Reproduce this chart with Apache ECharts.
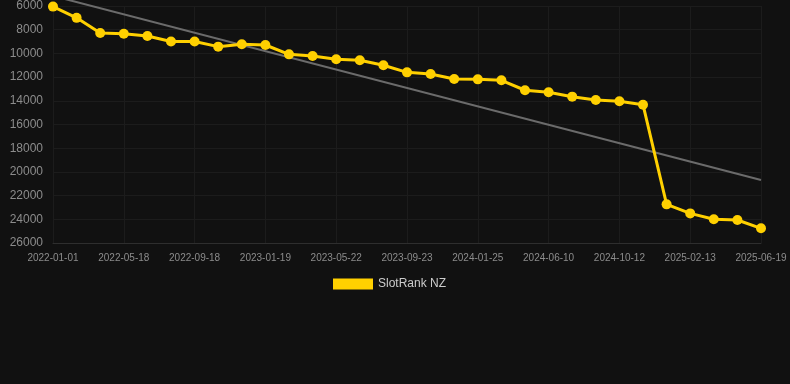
<!DOCTYPE html>
<html>
<head>
<meta charset="utf-8">
<script src="https://cdn.jsdelivr.net/npm/echarts@6/dist/echarts.min.js"></script>
<style>
html,body{margin:0;padding:0;background:#111111;}
#chart{width:790px;height:384px;}
</style>
</head>
<body>
<div id="chart"></div>
<script>
const dates = ['2022-01-01','2022-02-15','2022-04-01','2022-05-18','2022-06-28','2022-08-08','2022-09-18','2022-10-29','2022-12-09','2023-01-19','2023-03-01','2023-04-11','2023-05-22','2023-07-02','2023-08-13','2023-09-23','2023-11-03','2023-12-14','2024-01-25','2024-03-11','2024-04-26','2024-06-10','2024-07-21','2024-09-01','2024-10-12','2024-11-22','2025-01-02','2025-02-13','2025-03-28','2025-05-09','2025-06-19'];
const rankNZ = [6050,7000,8280,8340,8530,8990,9000,9430,9230,9290,10080,10220,10500,10580,11000,11600,11740,12160,12190,12270,13110,13280,13650,13930,14040,14330,22740,23500,24000,24060,24760];
const trendEnds = [5150,20680];
const seriesName = 'SlotRank NZ';

const trendData = dates.map(() => null);
trendData[0] = trendEnds[0];
trendData[dates.length - 1] = trendEnds[1];

const chart = echarts.init(document.getElementById('chart'));
chart.setOption({
  backgroundColor: '#111111',
  animation: false,
  grid: {left: 53, right: 29, top: 6, bottom: 141, containLabel: false},
  legend: {
    data: [seriesName],
    top: 273,
    left: 328,
    itemWidth: 40,
    itemHeight: 11,
    itemGap: 10,
    icon: 'rect',
    textStyle: {color: '#cccccc', fontSize: 12, fontFamily: 'Liberation Sans, Arial, sans-serif'}
  },
  xAxis: {
    type: 'category',
    data: dates,
    boundaryGap: false,
    axisLine: {show: true, lineStyle: {color: '#2e2e2e'}},
    axisTick: {show: false},
    axisLabel: {interval: 2, color: '#8c8c8c', fontSize: 10, margin: 10, fontFamily: 'Liberation Sans, Arial, sans-serif'},
    splitLine: {show: true, interval: 2, lineStyle: {color: '#1c1c1c', width: 1}}
  },
  yAxis: {
    type: 'value',
    inverse: true,
    min: 6000,
    max: 26000,
    interval: 2000,
    axisLine: {show: false},
    axisTick: {show: false},
    axisLabel: {color: '#8c8c8c', fontSize: 12, margin: 10, fontFamily: 'Liberation Sans, Arial, sans-serif', formatter: v => String(v)},
    splitLine: {show: true, lineStyle: {color: '#1c1c1c', width: 1}}
  },
  series: [
    {
      name: 'trend',
      type: 'line',
      data: trendData,
      connectNulls: true,
      showSymbol: false,
      symbol: 'none',
      clip: false,
      lineStyle: {color: '#6b6b6b', width: 2},
      z: 1,
      silent: true
    },
    {
      name: seriesName,
      type: 'line',
      data: rankNZ,
      symbol: 'circle',
      symbolSize: 10,
      itemStyle: {color: '#FFD000'},
      lineStyle: {color: '#FFD000', width: 3},
      z: 2
    }
  ]
});
</script>
</body>
</html>
